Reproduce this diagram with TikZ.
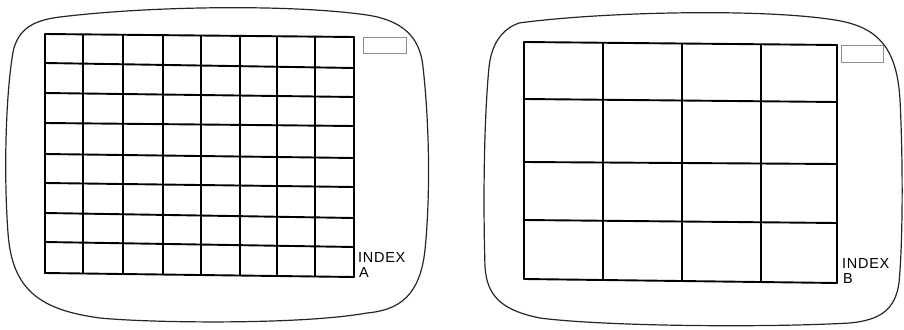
\documentclass[tikz,border=0pt]{standalone}
\usepackage{fontspec}
\setmainfont{Liberation Sans}
\newfontfamily\lblfont[LetterSpace=5]{Liberation Sans}
\begin{document}
\begin{tikzpicture}[x=1pt,y=-1pt,
  screen/.style={line width=1.2pt,black!85,line join=round},
  gridline/.style={line width=1.9pt,black,line cap=round},
  marker/.style={line width=0.9pt,black!45},
  lbl/.style={font=\lblfont\fontsize{14.5}{18}\selectfont,inner sep=0pt,anchor=base west}]
\useasboundingbox (0,0) rectangle (904,329);
% ---- left screen outline
\draw[screen] (13,52) .. controls (18,28) and (35,20) .. (60,17)
  .. controls (150,6) and (290,4) .. (367,15)
  .. controls (400,20) and (420,35) .. (423,67)
  .. controls (430,130) and (430,200) .. (425,250)
  .. controls (420,295) and (400,310) .. (367,313)
  .. controls (300,325) and (150,323) .. (100,318)
  .. controls (40,310) and (12,290) .. (8,233)
  .. controls (4,180) and (5,100) .. (13,52) -- cycle;
% ---- right screen outline
\draw[screen] (489,67) .. controls (492,40) and (505,28) .. (519,23)
  .. controls (600,12) and (760,8) .. (835,20)
  .. controls (880,27) and (897,50) .. (900,100)
  .. controls (903,160) and (903,240) .. (899,283)
  .. controls (895,310) and (880,320) .. (850,323)
  .. controls (760,328) and (600,326) .. (540,318)
  .. controls (500,310) and (487,295) .. (485,267)
  .. controls (483,200) and (484,120) .. (489,67) -- cycle;
% ---- left grid 8x8
\foreach \x in {45,83,123,163,201,240,277,315,354}{
  \pgfmathsetmacro{\yt}{34+3*(\x-45)/309}
  \pgfmathsetmacro{\yb}{273+4*(\x-45)/309}
  \draw[gridline] (\x,\yt) -- (\x,\yb);}
\foreach \yl/\yr in {34/37,63/68,93/97,123/126,154/158,183/187,213/218,242/247,273/277}{
  \draw[gridline] (45,\yl) -- (354,\yr);}
% ---- right grid 4x4
\foreach \x in {524,603,682,761,837}{
  \pgfmathsetmacro{\yt}{42+3*(\x-524)/313}
  \pgfmathsetmacro{\yb}{279+4*(\x-524)/313}
  \draw[gridline] (\x,\yt) -- (\x,\yb);}
\foreach \yl/\yr in {42/45,99/102,162/164,220/223,279/283}{
  \draw[gridline] (524,\yl) -- (837,\yr);}
% ---- small marker rectangles
\draw[marker] (363,37) rectangle (406,53);
\draw[marker] (841,45) rectangle (883,62);
% ---- labels
\node[lbl] (idxa) at (358,262) {INDEX};
\node[lbl] (laba) at (359,277.5) {A};
\node[lbl] (idxb) at (842,268) {INDEX};
\node[lbl] (labb) at (843,283.5) {B};
\end{tikzpicture}
\end{document}
